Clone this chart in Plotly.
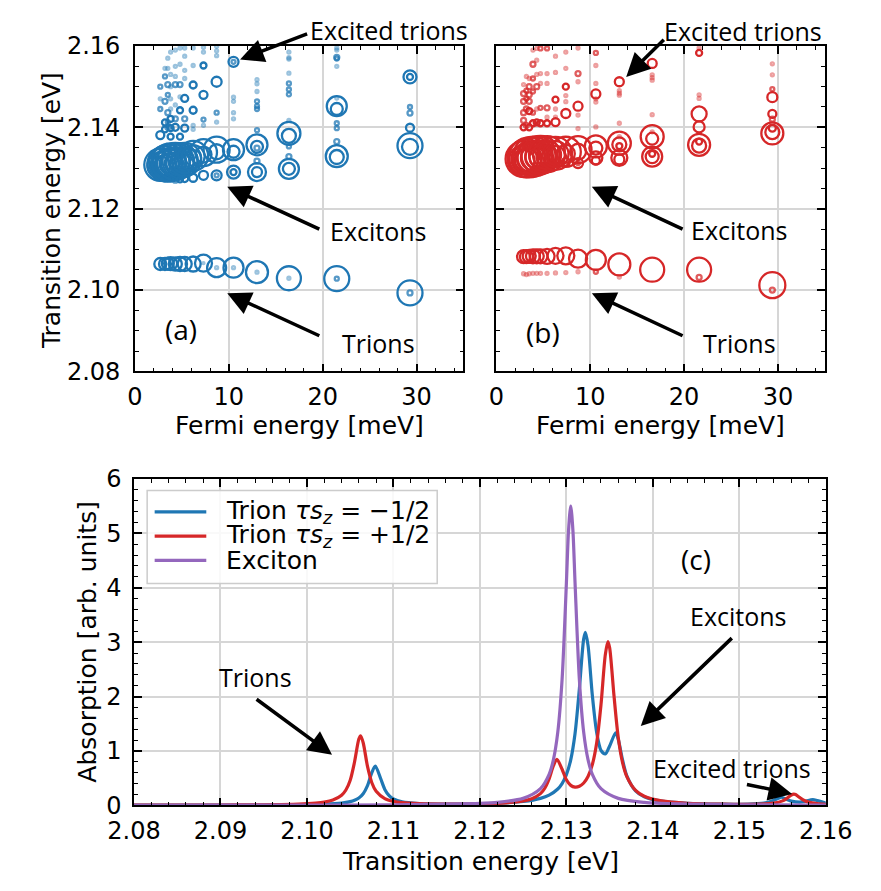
import plotly.graph_objects as go

# ---------------- panel (a): tau*s_z = -1/2 ----------------
# Fermi energies (meV) of the computed columns
a_fermi = [2.7, 3.2, 3.5, 3.8, 4.3, 4.8, 5.3, 6.2, 7.3, 8.7, 10.5, 13.0, 16.4, 21.5, 29.3]
# transition energies (eV) of the states in each column
a_energy = [
    [2.1064, 2.1308, 2.1306, 2.1304, 2.1381, 2.1445, 2.147, 2.150],
    [2.1064, 2.1310, 2.1308, 2.1306, 2.1395, 2.1412, 2.1464, 2.1525, 2.1545],
    [2.1065, 2.1312, 2.1310, 2.1308, 2.140, 2.1413, 2.1436, 2.148, 2.1505, 2.1545, 2.157],
    [2.1065, 2.1314, 2.1312, 2.1310, 2.1377, 2.1398, 2.1421, 2.1445, 2.147, 2.150, 2.153, 2.1585],
    [2.1064, 2.1316, 2.1314, 2.1312, 2.127, 2.140, 2.1421, 2.1455, 2.1505, 2.1525, 2.155, 2.159],
    [2.1064, 2.1318, 2.1316, 2.1314, 2.1272, 2.1377, 2.1442, 2.1475, 2.1505, 2.1555, 2.1595],
    [2.1064, 2.1321, 2.1319, 2.1317, 2.1274, 2.1398, 2.1421, 2.1471, 2.152, 2.154, 2.1575, 2.1595],
    [2.1064, 2.1330, 2.1328, 2.1325, 2.1276, 2.1395, 2.1405, 2.1442, 2.1504, 2.1552, 2.1595],
    [2.1066, 2.1066, 2.1338, 2.1333, 2.1282, 2.1405, 2.1419, 2.148, 2.1552, 2.1585, 2.1597],
    [2.1055, 2.1055, 2.1345, 2.134, 2.1282, 2.1282, 2.1413, 2.1436, 2.1512, 2.1576, 2.1588, 2.1599],
    [2.1055, 2.1055, 2.1345, 2.134, 2.129, 2.129, 2.1421, 2.1436, 2.1464, 2.1474, 2.1561, 2.1561],
    [2.1044, 2.1044, 2.1357, 2.1352, 2.1349, 2.1393, 2.1317, 2.129, 2.129, 2.1445, 2.1452, 2.1464,
     2.1488, 2.1507, 2.1517],
    [2.1029, 2.1029, 2.1385, 2.1379, 2.1353, 2.1328, 2.1298, 2.1298, 2.1417, 2.1481, 2.1493, 2.1508,
     2.1533, 2.1568, 2.1571, 2.1585],
    [2.1028, 2.1028, 2.1452, 2.1445, 2.141, 2.1398, 2.1365, 2.1329, 2.1327, 2.1472, 2.155, 2.1569,
     2.1572, 2.159, 2.1595],
    [2.0993, 2.0993, 2.1524, 2.1524, 2.145, 2.1435, 2.1399, 2.1355, 2.1352],
]
# oscillator strengths (arb. units) of the same states
a_osc = [
    [12, 32, 26, 20, 8, 4, 3, 4],
    [12, 35, 28, 21, 6, 6, 5, 4, 3],
    [12, 37, 30, 22, 5, 4, 5, 4, 5, 3, 3],
    [13, 38, 30, 22, 6, 6, 6, 3, 3, 3, 3, 3],
    [13, 37, 29, 21, 5, 7, 5, 3, 5, 3, 3, 3],
    [14, 35, 28, 20, 6, 6, 6, 3, 5, 3, 3],
    [14, 33, 26, 19, 7, 7, 5, 7, 3, 3, 3, 3],
    [15, 30, 23, 16, 8, 3, 3, 7, 7, 3, 3],
    [17, 2, 27, 16, 9, 3, 4, 8, 6, 3, 3],
    [19, 3, 26, 15, 10, 4, 3, 4, 10, 3, 3, 3],
    [20, 3, 21, 12, 13, 6, 3, 3, 3, 3, 10, 4],
    [22, 3, 21, 12, 5, 4, 5, 18, 10, 4, 4, 4, 3, 3, 3],
    [24, 3, 23, 14, 4, 5, 20, 12, 3, 4, 4, 4, 3, 3, 3, 3],
    [25, 4, 20, 12, 4, 4, 5, 22, 14, 3, 3, 4, 5, 3, 3],
    [25, 5, 13, 6, 4, 5, 8, 25, 16],
]

# ---------------- panel (b): tau*s_z = +1/2 ----------------
b_fermi = [2.9, 3.2, 3.5, 3.9, 4.3, 4.7, 5.4, 6.3, 7.4, 8.7, 10.6, 13.1, 16.6, 21.6, 29.4]
b_energy = [
    [2.1082, 2.104, 2.1322, 2.1320, 2.1318, 2.140, 2.1417, 2.1436, 2.1464, 2.1483, 2.1505],
    [2.1082, 2.1038, 2.1324, 2.1322, 2.132, 2.1405, 2.1445, 2.147, 2.149, 2.1525],
    [2.1083, 2.104, 2.1326, 2.1324, 2.1322, 2.140, 2.144, 2.1464, 2.148, 2.150, 2.152],
    [2.1083, 2.1041, 2.1328, 2.1326, 2.1324, 2.141, 2.1436, 2.1488, 2.152, 2.1555, 2.159],
    [2.1083, 2.1041, 2.1330, 2.1328, 2.1326, 2.1412, 2.1445, 2.150, 2.153, 2.1565, 2.1594],
    [2.1083, 2.1041, 2.1332, 2.1330, 2.1327, 2.141, 2.1448, 2.1508, 2.1532, 2.1594],
    [2.1083, 2.1041, 2.1334, 2.1332, 2.1329, 2.141, 2.1448, 2.1425, 2.1508, 2.1532, 2.1594],
    [2.1084, 2.1042, 2.1336, 2.1334, 2.1331, 2.1413, 2.1468, 2.1425, 2.1445, 2.1535, 2.1575],
    [2.1084, 2.1043, 2.1340, 2.1335, 2.1315, 2.1434, 2.150, 2.1463, 2.1478, 2.1545, 2.1585],
    [2.1077, 2.1045, 2.1345, 2.134, 2.1312, 2.1312, 2.1452, 2.1532, 2.1512, 2.1397, 2.143, 2.1595],
    [2.1074, 2.1045, 2.1353, 2.1349, 2.1325, 2.1318, 2.1482, 2.1401, 2.1462, 2.147, 2.1508, 2.1552,
     2.1583],
    [2.1063, 2.1032, 2.1361, 2.1358, 2.1354, 2.1325, 2.1321, 2.1512, 2.149, 2.1484, 2.1479, 2.141,
     2.1377],
    [2.1050, 2.1377, 2.1372, 2.1328, 2.1328, 2.1335, 2.1557, 2.1529, 2.1522, 2.1516, 2.1431, 2.1389],
    [2.1050, 2.1031, 2.1357, 2.1355, 2.1365, 2.1433, 2.1401, 2.1583, 2.1595, 2.148, 2.1471],
    [2.1012, 2.1000, 2.1385, 2.1388, 2.1398, 2.1474, 2.1433, 2.142, 2.1494, 2.1529, 2.1556],
]
b_osc = [
    [13, 3, 36, 29, 22, 6, 5, 5, 5, 5, 3],
    [13, 3, 38, 30, 23, 5, 5, 4, 4, 3],
    [13, 3, 40, 32, 24, 6, 6, 5, 5, 5, 3],
    [14, 3, 40, 32, 24, 6, 4, 4, 4, 5, 3],
    [14, 3, 39, 31, 23, 6, 3, 5, 3, 3, 3],
    [14, 3, 38, 30, 22, 6, 4, 3, 3, 4],
    [15, 3, 36, 28, 21, 6, 5, 3, 3, 3, 4],
    [16, 3, 33, 26, 19, 8, 6, 3, 3, 3, 3],
    [17, 3, 30, 18, 8, 9, 6, 3, 3, 3, 3],
    [18, 3, 27, 16, 10, 4, 9, 5, 3, 3, 3, 3],
    [20, 4, 22, 13, 13, 8, 9, 3, 3, 3, 3, 3, 4],
    [22, 3, 23, 14, 6, 16, 10, 9, 3, 3, 3, 3, 3],
    [24, 23, 12, 20, 13, 6, 9, 3, 3, 3, 3, 3],
    [24, 5, 22, 14, 6, 15, 11, 6, 3, 3, 3],
    [26, 5, 22, 14, 7, 10, 8, 5, 4, 3, 3],
]

# ---------------- panel (c): absorption spectra ----------------
minus_energy = [2.080, 2.090, 2.095, 2.099, 2.102, 2.104, 2.105, 2.1055, 2.106, 2.1065, 2.107, 2.1075,
                2.1079, 2.1085, 2.109, 2.1095, 2.110, 2.111, 2.113, 2.116, 2.120, 2.123, 2.125, 2.127,
                2.128, 2.129, 2.1295, 2.130, 2.1305, 2.131, 2.1315, 2.132, 2.1322, 2.1325, 2.133,
                2.1335, 2.134, 2.1345, 2.135, 2.1357, 2.136, 2.1365, 2.137, 2.138, 2.139, 2.141,
                2.144, 2.148, 2.151, 2.153, 2.154, 2.1548, 2.1555, 2.156, 2.157, 2.1575, 2.1585,
                2.159, 2.160]
minus_absorption = [0.002, 0.004, 0.006, 0.011, 0.020, 0.040, 0.068, 0.093, 0.136, 0.214, 0.363, 0.602,
                    0.720, 0.500, 0.293, 0.178, 0.117, 0.063, 0.032, 0.023, 0.029, 0.046, 0.070, 0.127,
                    0.186, 0.300, 0.400, 0.564, 0.836, 1.32, 2.14, 3.06, 3.18, 2.94, 2.02,
                    1.34, 1.01, 0.944, 1.09, 1.334, 1.21, 0.83, 0.538, 0.265, 0.158, 0.077,
                    0.038, 0.022, 0.022, 0.045, 0.094, 0.148, 0.108, 0.078, 0.058, 0.069, 0.104,
                    0.087, 0.040]

plus_energy = [2.080, 2.090, 2.095, 2.099, 2.101, 2.102, 2.103, 2.104, 2.1045, 2.105, 2.1055, 2.106,
               2.1062, 2.1065, 2.107, 2.1075, 2.108, 2.109, 2.110, 2.111, 2.113, 2.116, 2.120, 2.123,
               2.125, 2.126, 2.127, 2.1275, 2.128, 2.1285, 2.1289, 2.1295, 2.130, 2.1305, 2.131,
               2.1315, 2.132, 2.1325, 2.133, 2.1335, 2.134, 2.1345, 2.1348, 2.135, 2.1355, 2.136,
               2.1365, 2.137, 2.138, 2.139, 2.141, 2.144, 2.148, 2.151, 2.153, 2.154, 2.155, 2.1555,
               2.156, 2.1563, 2.1565, 2.157, 2.1575, 2.158, 2.159, 2.160]
plus_absorption = [0.003, 0.006, 0.011, 0.022, 0.040, 0.059, 0.097, 0.186, 0.282, 0.462, 0.797, 1.218,
                   1.278, 1.151, 0.715, 0.416, 0.258, 0.123, 0.072, 0.048, 0.031, 0.024, 0.029, 0.046,
                   0.081, 0.122, 0.215, 0.314, 0.485, 0.73, 0.845, 0.663, 0.47, 0.367, 0.335,
                   0.35, 0.41, 0.53, 0.75, 1.145, 1.85, 2.77, 3.01, 2.895, 2.02, 1.24,
                   0.78, 0.523, 0.275, 0.167, 0.081, 0.038, 0.022, 0.019, 0.027, 0.040, 0.082, 0.129,
                   0.190, 0.207, 0.199, 0.141, 0.089, 0.058, 0.031, 0.020]

exciton_energy = [2.080, 2.100, 2.110, 2.118, 2.122, 2.125, 2.127, 2.128, 2.1285, 2.129, 2.1295, 2.130,
                  2.13025, 2.1305, 2.13075, 2.131, 2.1315, 2.132, 2.1325, 2.133, 2.134, 2.136, 2.139,
                  2.143, 2.151, 2.160]
exciton_absorption = [0.0016, 0.0043, 0.0095, 0.025, 0.054, 0.128, 0.306, 0.57, 0.84, 1.34, 2.31, 4.09,
                      5.06, 5.5, 5.06, 4.09, 2.31, 1.34, 0.84, 0.57, 0.306, 0.128, 0.054,
                      0.025, 0.0095, 0.0035]

legend_labels = ["Trion <i>τs</i><sub><i>z</i></sub> = −1/2",
                 "Trion <i>τs</i><sub><i>z</i></sub> = +1/2",
                 "Exciton"]

BLUE = "#1f77b4"
RED = "#d62728"
PURPLE = "#9467bd"
TICK_FONT = dict(family="DejaVu Sans", size=24, color="black")
NOTE_FONT = dict(family="Open Sans", size=25, color="black")
W, H = 881, 891


def flatten(columns, values):
    xs, ys = [], []
    for f, col in zip(columns, values):
        xs.extend([f] * len(col))
        ys.extend(col)
    return xs, ys


def marker_style(osc_cols, color):
    osc = [w for col in osc_cols for w in col]
    opac = [0.45 if w <= 3 else (0.75 if w <= 5 else 1.0) for w in osc]
    return dict(symbol="circle-open", size=osc, color=color, opacity=opac,
                line=dict(width=2.3, color=color))


fig = go.Figure()

ax_f, ax_e = flatten(a_fermi, a_energy)
fig.add_trace(go.Scatter(x=ax_f, y=ax_e, mode="markers", marker=marker_style(a_osc, BLUE),
                         xaxis="x", yaxis="y", showlegend=False, hoverinfo="skip"))
bx_f, bx_e = flatten(b_fermi, b_energy)
fig.add_trace(go.Scatter(x=bx_f, y=bx_e, mode="markers", marker=marker_style(b_osc, RED),
                         xaxis="x2", yaxis="y2", showlegend=False, hoverinfo="skip"))

spectra = [(minus_energy, minus_absorption, BLUE),
           (plus_energy, plus_absorption, RED),
           (exciton_energy, exciton_absorption, PURPLE)]
for (xs, ys, col), lab in zip(spectra, legend_labels):
    fig.add_trace(go.Scatter(x=xs, y=ys, name=lab, mode="lines", xaxis="x3", yaxis="y3",
                             line=dict(color=col, width=3.2, shape="spline", smoothing=0.8),
                             showlegend=False, hoverinfo="skip"))


def axis(rng, dtick, minor_dtick, domain, anchor, labels=True, fmt=None, standoff=0):
    d = dict(range=rng, dtick=dtick, tick0=rng[0], domain=domain, anchor=anchor,
             showline=True, linecolor="black", linewidth=1.5, mirror="allticks",
             ticks="inside", ticklen=8, tickwidth=1.5, tickcolor="black",
             showgrid=True, gridcolor="#d6d6d6", gridwidth=1.5, zeroline=False,
             showticklabels=labels, tickfont=TICK_FONT, ticklabelstandoff=standoff,
             minor=dict(ticks="inside", ticklen=4, tickwidth=1, tickcolor="black",
                        dtick=minor_dtick, showgrid=False))
    if fmt:
        d["tickformat"] = fmt
    return d


top_y = [1 - 369 / H, 1 - 33 / H]
bot_y = [1 - 817 / H, 1 - 480 / H]
fig.update_layout(
    width=W, height=H, margin=dict(l=0, r=0, t=0, b=0),
    paper_bgcolor="white", plot_bgcolor="white", showlegend=False,
    xaxis=axis([0, 35], 10, 2, [115 / W, 465 / W], "y", standoff=3),
    yaxis=axis([2.08, 2.16], 0.02, 0.005, top_y, "x", fmt=".2f", standoff=8),
    xaxis2=axis([0, 35], 10, 2, [500 / W, 850 / W], "y2", standoff=3),
    yaxis2=axis([2.08, 2.16], 0.02, 0.005, top_y, "x2", labels=False),
    xaxis3=axis([2.08, 2.16], 0.01, 0.002, [114 / W, 851 / W], "y3", fmt=".2f", standoff=3),
    yaxis3=axis([0, 6], 1, 0.2, bot_y, "x3", standoff=6),
)

annotations = []
shapes = []


def text(x, y, s, xref, yref, font=NOTE_FONT, angle=0, xanchor="center"):
    annotations.append(dict(x=x, y=y, xref=xref, yref=yref, text=s, showarrow=False,
                            font=font, textangle=angle, xanchor=xanchor, yanchor="middle"))


def arrow(x, y, ax, ay, xref, yref):
    annotations.append(dict(x=x, y=y, ax=ax, ay=ay, xref=xref, yref=yref, axref=xref, ayref=yref,
                            text="", showarrow=True, arrowhead=2, arrowsize=1.35, arrowwidth=3.5,
                            arrowcolor="black"))


# axis titles
title_font = dict(family="DejaVu Sans", size=25, color="black")
text(26 / W, 1 - 203 / H, "Transition energy [eV]", "paper", "paper", title_font, -90)
text(290 / W, 1 - 425 / H, "Fermi energy [meV]", "paper", "paper", title_font)
text(675 / W, 1 - 425 / H, "Fermi energy [meV]", "paper", "paper", title_font)
text(483 / W, 1 - 875 / H, "Transition energy [eV]", "paper", "paper", title_font)
text(65 / W, 1 - 648 / H, "Absorption [arb. units]", "paper", "paper", title_font, -90)

label_font = dict(family="Open Sans", size=28, color="black")

# panel (a) labels
text(386 / W, 1 - 17 / H, "Excited trions", "paper", "paper")
text(25.9, 2.1145, "Excitons", "x", "y")
text(25.9, 2.0869, "Trions", "x", "y")
text(4.9, 2.0905, "(a)", "x", "y", label_font)
arrow(11.2, 2.1567, 18.5, 2.1631, "x", "y")
arrow(9.83, 2.1254, 19.8, 2.1148, "x", "y")
arrow(9.83, 2.0992, 19.8, 2.0886, "x", "y")

# panel (b) labels
text(763 / W, 1 - 18 / H, "Excited trions", "paper", "paper")
text(25.85, 2.1148, "Excitons", "x2", "y2")
text(25.85, 2.0869, "Trions", "x2", "y2")
text(5.0, 2.0898, "(b)", "x2", "y2", label_font)
arrow(13.83, 2.1524, 18.0, 2.1619, "x2", "y2")
arrow(10.17, 2.1254, 20.0, 2.1148, "x2", "y2")
arrow(10.17, 2.0992, 20.0, 2.0886, "x2", "y2")

# panel (c) labels
text(2.0941, 2.35, "Trions", "x3", "y3")
text(2.1499, 3.48, "Excitons", "x3", "y3")
text(2.1492, 0.68, "Excited trions", "x3", "y3")
text(2.1450, 4.53, "(c)", "x3", "y3", label_font)
arrow(2.1029, 0.93, 2.0940, 1.97, "x3", "y3")
arrow(2.1386, 1.46, 2.1493, 3.10, "x3", "y3")
arrow(2.1561, 0.21, 2.1507, 0.39, "x3", "y3")

# legend box for panel (c)
shapes.append(dict(type="rect", xref="paper", yref="paper", layer="above",
                   x0=128 / W, x1=437 / W, y0=1 - 588 / H, y1=1 - 492 / H,
                   fillcolor="rgba(255,255,255,0.85)", line=dict(color="#cccccc", width=1.5)))
legend_font = dict(family="DejaVu Sans", size=25, color="black")
for i, ((_, _, col), lab) in enumerate(zip(spectra, legend_labels)):
    yy = 1 - (514 + 25 * i) / H
    shapes.append(dict(type="line", xref="paper", yref="paper", layer="above",
                       x0=136 / W, x1=191 / W, y0=yy, y1=yy, line=dict(color=col, width=3.2)))
    text(210 / W, yy, lab, "paper", "paper", legend_font, xanchor="left")

fig.update_layout(annotations=annotations, shapes=shapes)
fig.write_html("out.html")
